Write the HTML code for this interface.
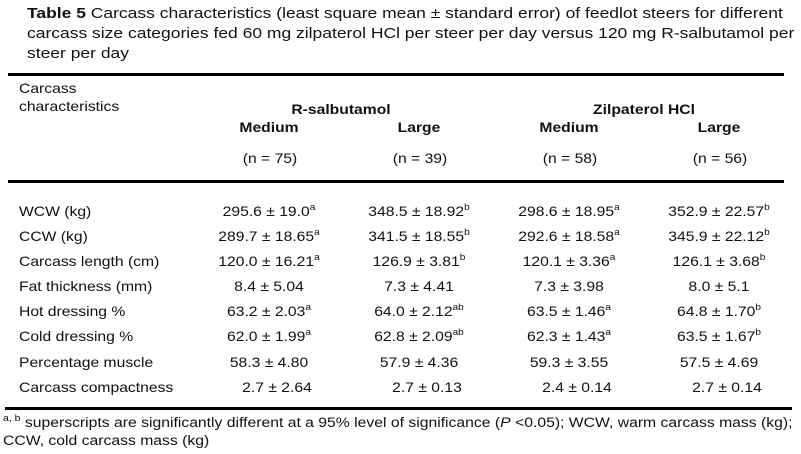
<!DOCTYPE html>
<html><head><style>
body{margin:0;width:801px;height:454px;background:#fff;font-family:"Liberation Sans",Arial,sans-serif;color:#111;position:relative;overflow:hidden}
.t{position:absolute;white-space:nowrap;font-size:14px;line-height:16px;transform-origin:0 0;transform:scaleX(1.12)}
.c{position:absolute;white-space:nowrap;font-size:14px;line-height:16px;transform:translateX(-50%) scaleX(1.12)}
.b{font-weight:bold}
sup{font-size:9px;line-height:0;vertical-align:6px}
.ln{position:absolute;left:8px;width:776px;height:3px;background:#000}
</style></head><body>
<div class="t" style="left:27px;top:4px;font-size:15px;line-height:20px;transform:scaleX(1.165)"><b>Table 5</b> Carcass characteristics (least square mean ± standard error) of feedlot steers for different<br>carcass size categories fed 60 mg zilpaterol HCl per steer per day versus 120 mg R-salbutamol per<br>steer per day</div>
<div class="ln" style="top:73px"></div>
<div class="t" style="left:19px;top:80px">Carcass</div>
<div class="t" style="left:19px;top:98px">characteristics</div>
<div class="c b" style="left:341px;top:101px">R-salbutamol</div>
<div class="c b" style="left:644px;top:101px">Zilpaterol HCl</div>
<div class="c b" style="left:269px;top:119px">Medium</div>
<div class="c b" style="left:419px;top:119px">Large</div>
<div class="c b" style="left:569px;top:119px">Medium</div>
<div class="c b" style="left:719px;top:119px">Large</div>
<div class="c" style="left:270px;top:150px">(n = 75)</div>
<div class="c" style="left:420px;top:150px">(n = 39)</div>
<div class="c" style="left:570px;top:150px">(n = 58)</div>
<div class="c" style="left:720px;top:150px">(n = 56)</div>
<div class="ln" style="top:180px"></div>

<div class="t" style="left:19px;top:203px">WCW (kg)</div>
<div class="c" style="left:269px;top:203px">295.6 ± 19.0<sup>a</sup></div>
<div class="c" style="left:419px;top:203px">348.5 ± 18.92<sup>b</sup></div>
<div class="c" style="left:569px;top:203px">298.6 ± 18.95<sup>a</sup></div>
<div class="c" style="left:719px;top:203px">352.9 ± 22.57<sup>b</sup></div>

<div class="t" style="left:19px;top:228px">CCW (kg)</div>
<div class="c" style="left:269px;top:228px">289.7 ± 18.65<sup>a</sup></div>
<div class="c" style="left:419px;top:228px">341.5 ± 18.55<sup>b</sup></div>
<div class="c" style="left:569px;top:228px">292.6 ± 18.58<sup>a</sup></div>
<div class="c" style="left:719px;top:228px">345.9 ± 22.12<sup>b</sup></div>

<div class="t" style="left:19px;top:253px">Carcass length (cm)</div>
<div class="c" style="left:269px;top:253px">120.0 ± 16.21<sup>a</sup></div>
<div class="c" style="left:419px;top:253px">126.9 ± 3.81<sup>b</sup></div>
<div class="c" style="left:569px;top:253px">120.1 ± 3.36<sup>a</sup></div>
<div class="c" style="left:719px;top:253px">126.1 ± 3.68<sup>b</sup></div>

<div class="t" style="left:19px;top:278px">Fat thickness (mm)</div>
<div class="c" style="left:269px;top:278px">8.4 ± 5.04</div>
<div class="c" style="left:419px;top:278px">7.3 ± 4.41</div>
<div class="c" style="left:569px;top:278px">7.3 ± 3.98</div>
<div class="c" style="left:719px;top:278px">8.0 ± 5.1</div>

<div class="t" style="left:19px;top:303px">Hot dressing %</div>
<div class="c" style="left:269px;top:303px">63.2 ± 2.03<sup>a</sup></div>
<div class="c" style="left:419px;top:303px">64.0 ± 2.12<sup>ab</sup></div>
<div class="c" style="left:569px;top:303px">63.5 ± 1.46<sup>a</sup></div>
<div class="c" style="left:719px;top:303px">64.8 ± 1.70<sup>b</sup></div>

<div class="t" style="left:19px;top:328px">Cold dressing %</div>
<div class="c" style="left:269px;top:328px">62.0 ± 1.99<sup>a</sup></div>
<div class="c" style="left:419px;top:328px">62.8 ± 2.09<sup>ab</sup></div>
<div class="c" style="left:569px;top:328px">62.3 ± 1.43<sup>a</sup></div>
<div class="c" style="left:719px;top:328px">63.5 ± 1.67<sup>b</sup></div>

<div class="t" style="left:19px;top:354px">Percentage muscle</div>
<div class="c" style="left:269px;top:354px">58.3 ± 4.80</div>
<div class="c" style="left:419px;top:354px">57.9 ± 4.36</div>
<div class="c" style="left:569px;top:354px">59.3 ± 3.55</div>
<div class="c" style="left:719px;top:354px">57.5 ± 4.69</div>

<div class="t" style="left:19px;top:379px">Carcass compactness</div>
<div class="c" style="left:277px;top:379px">2.7 ± 2.64</div>
<div class="c" style="left:427px;top:379px">2.7 ± 0.13</div>
<div class="c" style="left:577px;top:379px">2.4 ± 0.14</div>
<div class="c" style="left:727px;top:379px">2.7 ± 0.14</div>

<div class="ln" style="top:407px;left:5px;width:787px"></div>
<div class="t" style="left:3px;top:414px;font-size:13.5px;line-height:18px;transform:scaleX(1.165)"><sup>a, b</sup> superscripts are significantly different at a 95% level of significance (<i>P</i> &lt;0.05); WCW, warm carcass mass (kg);<br>CCW, cold carcass mass (kg)</div>
</body></html>
